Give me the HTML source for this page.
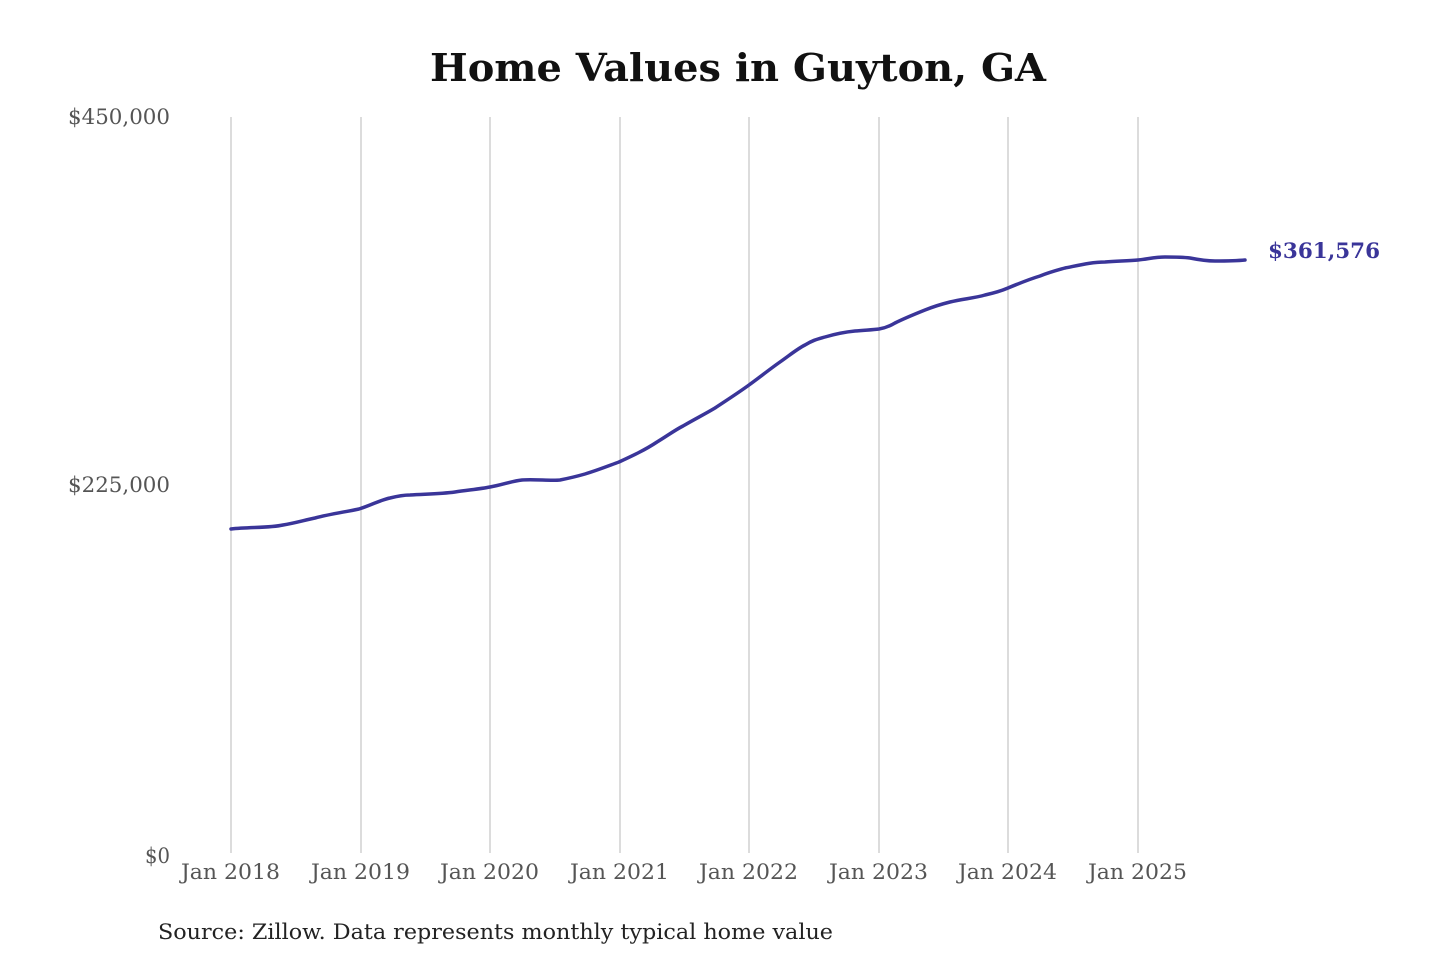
<!DOCTYPE html>
<html><head><meta charset="utf-8"><style>
html,body{margin:0;padding:0;background:#fff;}
svg{display:block;}
text{font-family:"DejaVu Serif","Liberation Serif",serif;}
</style></head><body>
<svg width="1440" height="960" viewBox="0 0 1440 960" xmlns="http://www.w3.org/2000/svg">
<rect width="1440" height="960" fill="#fff"/>
<text x="430" y="81" font-size="38" font-weight="bold" fill="#111" textLength="616" lengthAdjust="spacingAndGlyphs">Home Values in Guyton, GA</text>
<g stroke="#c4c4c4" stroke-width="1.2">
<line x1="231" y1="117" x2="231" y2="853"/>
<line x1="361" y1="117" x2="361" y2="853"/>
<line x1="490" y1="117" x2="490" y2="853"/>
<line x1="620" y1="117" x2="620" y2="853"/>
<line x1="749" y1="117" x2="749" y2="853"/>
<line x1="879" y1="117" x2="879" y2="853"/>
<line x1="1008" y1="117" x2="1008" y2="853"/>
<line x1="1138" y1="117" x2="1138" y2="853"/>
</g>
<g font-size="21" fill="#555">
<text x="68" y="124" textLength="102" lengthAdjust="spacingAndGlyphs">$450,000</text>
<text x="68" y="492" textLength="102" lengthAdjust="spacingAndGlyphs">$225,000</text>
<text x="145" y="863" textLength="25" lengthAdjust="spacingAndGlyphs">$0</text>
</g>
<g font-size="21" fill="#555">
<text x="181" y="879" textLength="99" lengthAdjust="spacingAndGlyphs">Jan 2018</text>
<text x="311" y="879" textLength="99" lengthAdjust="spacingAndGlyphs">Jan 2019</text>
<text x="440" y="879" textLength="99" lengthAdjust="spacingAndGlyphs">Jan 2020</text>
<text x="570" y="879" textLength="99" lengthAdjust="spacingAndGlyphs">Jan 2021</text>
<text x="699" y="879" textLength="99" lengthAdjust="spacingAndGlyphs">Jan 2022</text>
<text x="829" y="879" textLength="99" lengthAdjust="spacingAndGlyphs">Jan 2023</text>
<text x="958" y="879" textLength="99" lengthAdjust="spacingAndGlyphs">Jan 2024</text>
<text x="1088" y="879" textLength="99" lengthAdjust="spacingAndGlyphs">Jan 2025</text>
</g>
<path fill="none" stroke="#3a3599" stroke-width="3.5" stroke-linejoin="round" stroke-linecap="round"
d="M231,529 C250,527 270,528 283,525 C295,523 305,520 315,518 C330,514 345,512 359,509 C372,505 380,500 390,498 C398,496 404,495 410,495 C425,494 440,494 455,492 C468,490 480,489 490,487 C502,485 512,481 522,480 C535,479 550,481 560,480 C570,478 578,476 585,474 C598,470 608,466 619,462 C632,456 645,450 657,442 C667,436 675,430 683,426 C695,419 705,414 715,408 C727,400 738,393 749,385 C760,377 770,369 780,362 C790,355 797,349 805,345 C813,340 818,339 825,337 C835,334 845,332 855,331 C865,330 872,330 879,329 C885,328 890,326 895,323 C905,318 915,314 925,310 C935,306 942,304 950,302 C962,299 975,298 985,295 C994,293 1001,291 1008,288 C1020,283 1030,279 1040,276 C1050,272 1058,270 1065,268 C1080,265 1092,262 1105,262 C1118,261 1128,261 1138,260 C1148,259 1155,257 1165,257 C1175,257 1182,257 1190,258 C1200,260 1207,261 1215,261 C1225,261 1235,261 1245,260"/>
<text x="1268" y="258" font-size="21" font-weight="bold" fill="#3a3599" textLength="112" lengthAdjust="spacingAndGlyphs">$361,576</text>
<text x="158" y="939" font-size="21" fill="#222" textLength="675" lengthAdjust="spacingAndGlyphs">Source: Zillow. Data represents monthly typical home value</text>
</svg>
</body></html>
